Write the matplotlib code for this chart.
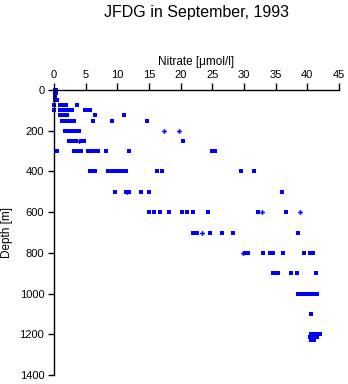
import matplotlib
matplotlib.use("Agg")
import matplotlib.pyplot as plt

plt.rcParams['font.family'] = ['Liberation Sans', 'DejaVu Sans']

title = "JFDG in September, 1993"
xlabel = "Nitrate [μmol/l]"
ylabel = "Depth [m]"
xticks = [0, 5, 10, 15, 20, 25, 30, 35, 40, 45]
yticks = [0, 200, 400, 600, 800, 1000, 1200, 1400]

# square-marker samples: depth -> nitrate values
rows = {
    0: [0.1, 0.3],
    8: [0.2],
    15: [0.1, 0.3],
    25: [0.2],
    35: [0.1],
    50: [0.1, 0.4],
    75: [0.0, 0.9, 1.2, 1.5, 1.9, 3.7],
    100: [0.0, 0.9, 1.3, 1.7, 2.1, 2.5, 2.8, 4.9, 5.2, 5.7],
    125: [0.9, 1.3, 1.7, 2.1, 6.5, 11.0],
    150: [1.2, 1.6, 2.0, 2.4, 2.8, 3.1, 6.1, 9.1, 14.7],
    200: [1.7, 2.1, 2.5, 2.9, 3.3, 3.7, 4.0],
    250: [2.3, 2.7, 3.1, 3.4, 4.3, 4.7, 20.4],
    300: [0.5, 3.1, 3.5, 4.0, 4.3, 5.3, 5.7, 6.1, 6.5, 6.9, 8.2, 11.8, 25.0, 25.4],
    400: [5.7, 6.1, 6.5, 8.5, 9.0, 9.5, 10.0, 10.5, 10.9, 11.3, 16.3, 17.1, 29.6, 31.6],
    500: [9.7, 11.3, 11.9, 13.7, 15.0, 36.0],
    600: [15.0, 15.8, 16.7, 18.2, 20.2, 21.0, 22.0, 24.3, 32.2, 36.7],
    700: [22.0, 22.6, 24.7, 26.6, 28.3, 38.6],
    800: [30.2, 30.7, 33.0, 34.1, 34.6, 36.2, 39.4, 40.4, 40.9],
    900: [34.6, 35.0, 35.4, 37.4, 38.3, 41.3],
    1000: [38.5, 39.0, 39.6, 40.0, 40.5, 41.0, 41.5],
    1100: [40.5],
    1200: [40.6, 41.0, 41.5, 42.0],
    1215: [40.4, 40.9, 41.5],
    1228: [40.5, 41.1],
}
depth_sq = [d for d, vals in rows.items() for _ in vals]
nitrate_sq = [v for vals in rows.values() for v in vals]

# plus-marker samples
depth_plus = [200, 200, 250, 500, 600, 600, 700, 800]
nitrate_plus = [17.3, 19.8, 3.9, 11.6, 32.8, 38.8, 23.3, 29.9]

fig = plt.figure(figsize=(3.48, 3.84), dpi=100)
ax = fig.add_axes([54/348, 1 - 375/384, (339 - 54)/348, (375 - 90)/384])

ax.plot(nitrate_sq, depth_sq, linestyle='none', marker='s', markersize=2.3,
        color='#0000ff', markeredgewidth=0, clip_on=False)
ax.plot(nitrate_plus, depth_plus, linestyle='none', marker='P', markersize=3.4,
        color='#0000ff', markeredgewidth=0, clip_on=False)

ax.set_xlim(0, 45)
ax.set_ylim(1400, 0)
ax.set_xticks(xticks)
ax.set_yticks(yticks)
ax.xaxis.tick_top()
ax.xaxis.set_label_position('top')
for s in ['right', 'bottom']:
    ax.spines[s].set_visible(False)
for s in ['left', 'top']:
    ax.spines[s].set_linewidth(1.0)
ax.tick_params(axis='x', direction='out', length=5, width=1.0, labelsize=8, pad=2)
ax.tick_params(axis='y', direction='out', length=4, width=1.0, labelsize=8, pad=3)
ax.set_xlabel(xlabel, fontsize=8.5, labelpad=4)
ax.set_ylabel(ylabel, fontsize=8.5, labelpad=5)
fig.text((54 + 339) / 2 / 348, 1 - 13 / 384, title, ha='center', va='center', fontsize=11.5)

fig.savefig("out.png", dpi=100)
